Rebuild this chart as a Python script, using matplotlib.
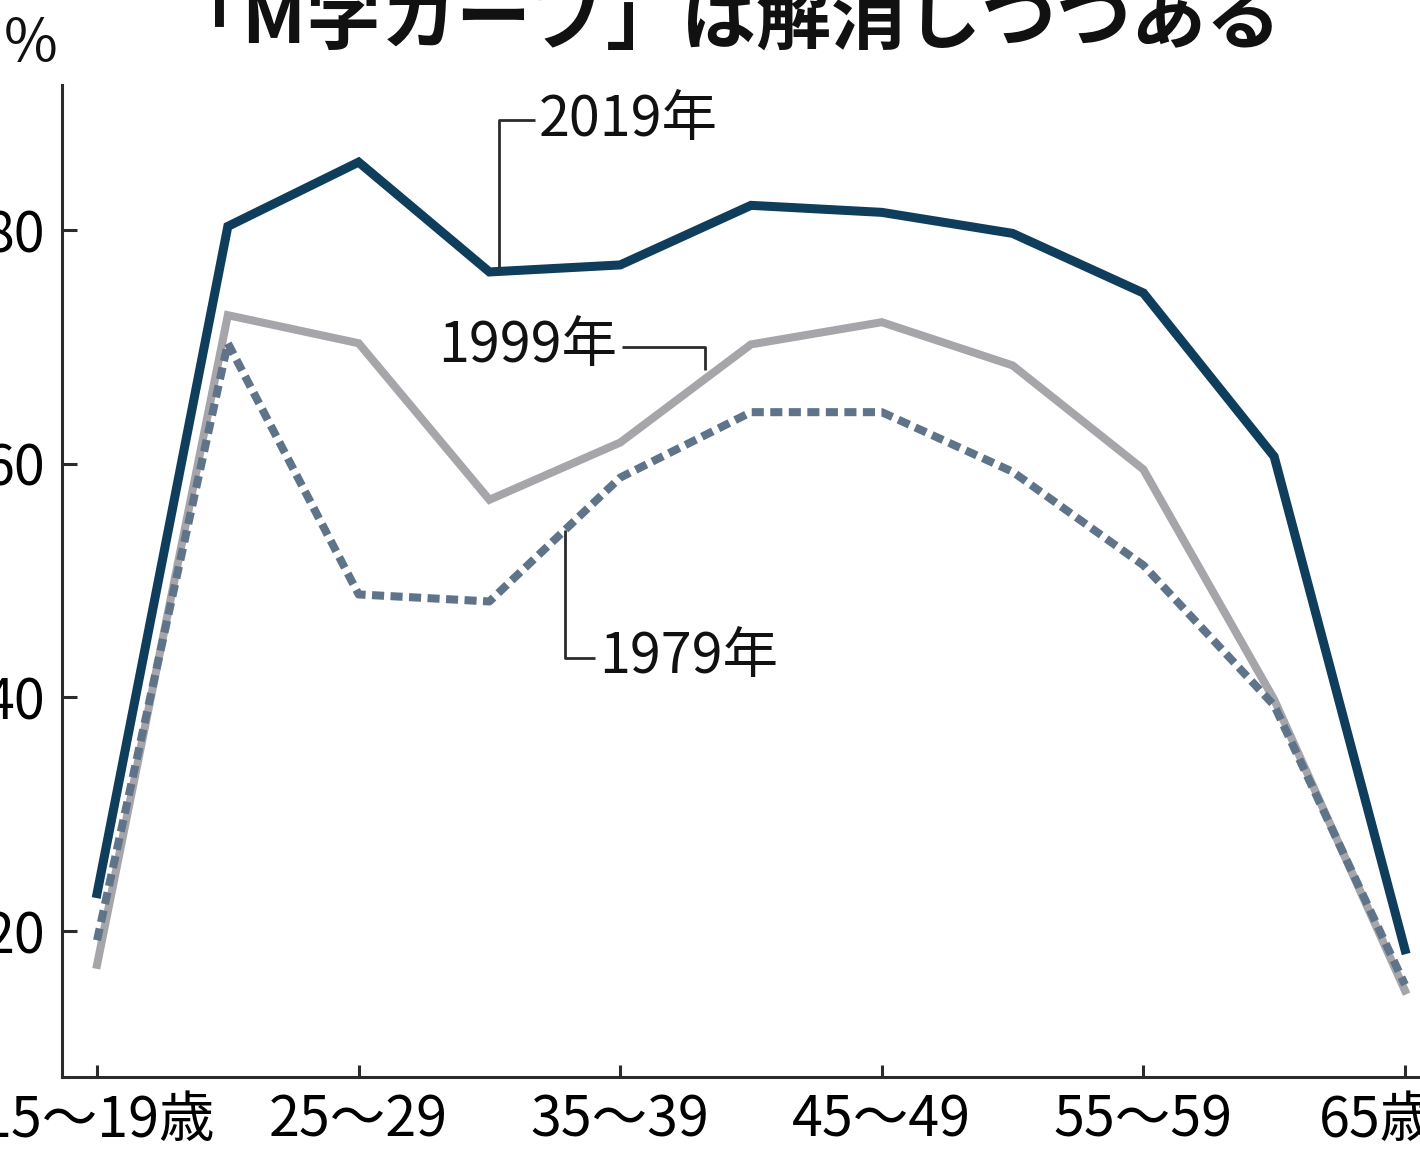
import matplotlib
matplotlib.use("Agg")
import matplotlib.pyplot as plt

# 年齢階級
ages = ["15～19歳", "20～24", "25～29", "30～34", "35～39", "40～44",
        "45～49", "50～54", "55～59", "60～64", "65歳～"]
tick_idx = [0, 2, 4, 6, 8, 10]

# 女性の労働力率（%）
rate_2019 = [23.2, 80.3, 85.8, 76.4, 77.0, 82.1, 81.5, 79.7, 74.6, 60.6, 18.4]
rate_1999 = [17.1, 72.7, 70.3, 56.9, 61.8, 70.2, 72.1, 68.4, 59.5, 39.8, 14.9]
rate_1979 = [19.2, 70.3, 48.8, 48.2, 58.8, 64.4, 64.4, 59.3, 51.3, 39.3, 15.4]

yticks = [20, 40, 60, 80]

jp_font = ["Noto Sans CJK JP", "DejaVu Sans"]

navy = "#0f3d5c"
grey = "#a6a6aa"
steel = "#5f7389"
ink = "#2b2b2b"

fig = plt.figure(figsize=(14.2, 11.52), dpi=100)
ax = fig.add_axes([62 / 1420, 75 / 1152, 1358 / 1420, 992 / 1152])

x = list(range(len(ages)))
ax.plot(x, rate_1999, color=grey, lw=5.8, solid_joinstyle="miter", zorder=3)
ax.plot(x, rate_1979, color=steel, lw=5.8, dashes=(1.5, 0.8), zorder=4)
ax.plot(x, rate_2019, color=navy, lw=6.5, solid_joinstyle="miter", zorder=5)

ax.set_xlim(-0.268, 10.115)
ax.set_ylim(7.5, 92.4)

ax.set_xticks(tick_idx)
ax.set_xticklabels([ages[i] for i in tick_idx], family=jp_font, fontsize=40)
ax.set_yticks(yticks)
ax.set_yticklabels([str(v) for v in yticks], family=jp_font, fontsize=40)

for s in ["top", "right"]:
    ax.spines[s].set_visible(False)
for s in ["left", "bottom"]:
    ax.spines[s].set_linewidth(2.2)
    ax.spines[s].set_color(ink)

ax.tick_params(axis="y", direction="in", length=11, width=2.2, color=ink, pad=12)
ax.tick_params(axis="x", direction="in", length=9, width=2.2, color=ink, pad=11)

# 凡例代わりの引き出し線
lk = dict(color=ink, lw=2, solid_capstyle="butt", zorder=6, clip_on=False)
ax.plot([3.35, 3.07, 3.07], [89.4, 89.4, 76.8], **lk)
ax.text(3.38, 89.4, "2019年", family=jp_font, fontsize=40,
        va="center", ha="left", color="#111")

ax.plot([4.01, 4.65, 4.65], [70.0, 70.0, 68.0], **lk)
ax.text(3.98, 70.0, "1999年", family=jp_font, fontsize=40,
        va="center", ha="right", color="#111")

ax.plot([3.58, 3.58, 3.81], [54.3, 43.4, 43.4], **lk)
ax.text(3.84, 43.4, "1979年", family=jp_font, fontsize=40,
        va="center", ha="left", color="#111")

# 単位とタイトル
fig.text(58 / 1420, 1 - 44 / 1152, "%", family=jp_font, fontsize=42,
         ha="right", va="center", color="#111")
fig.text(724 / 1420, 1 - 44 / 1152, "「M字カーブ」は解消しつつある",
         family=jp_font, fontsize=54, fontweight="bold",
         ha="center", va="baseline", color="#111")

fig.savefig("out.png", dpi=100)
